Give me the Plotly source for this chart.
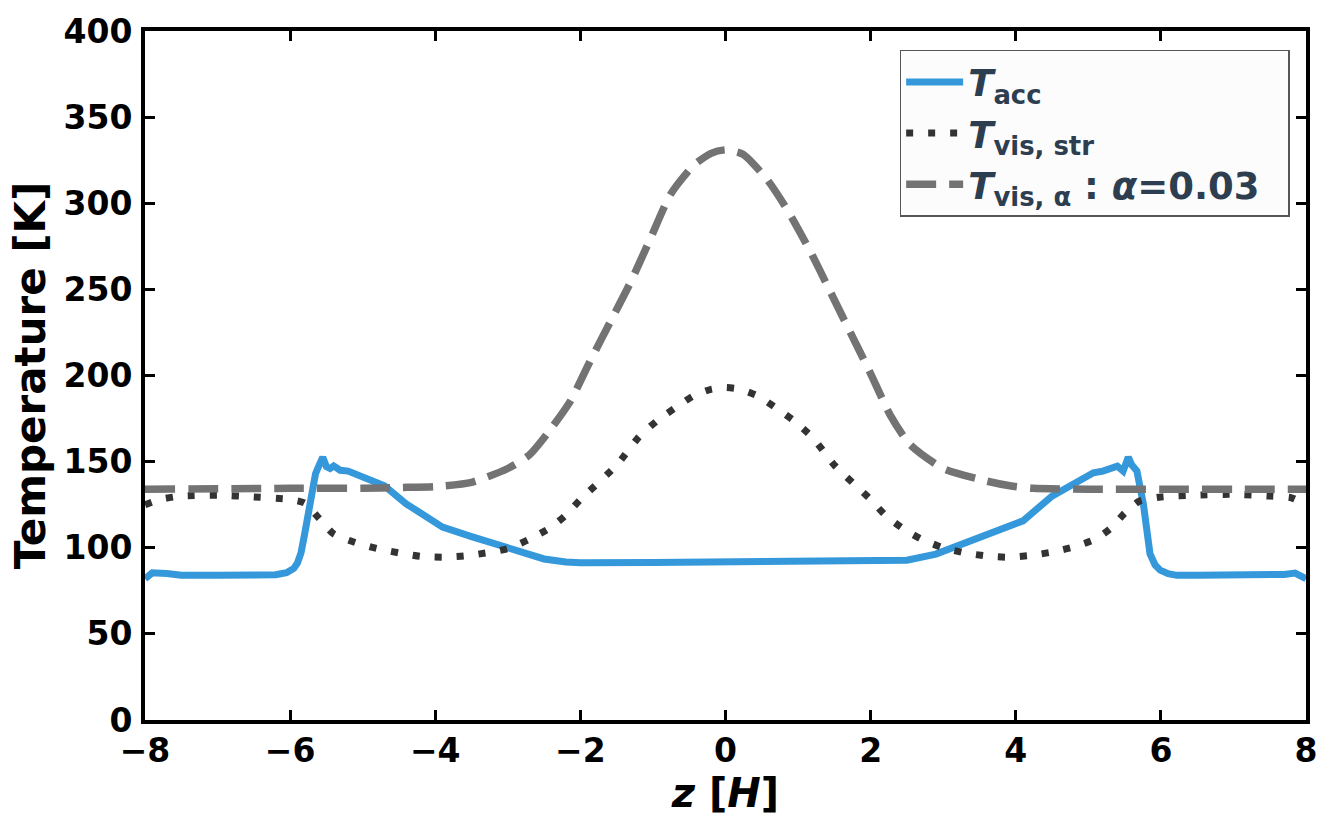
import plotly.graph_objects as go

# T_acc (solid blue)
z_acc = [-8.0, -7.9, -7.7, -7.5, -7.0, -6.5, -6.2, -6.05, -5.95, -5.9, -5.85, -5.8, -5.75, -5.7, -5.65,
         -5.6, -5.55, -5.5, -5.45, -5.4, -5.35, -5.31, -5.2, -5.08, -4.86, -4.7, -4.4, -4.1, -3.9,
         -3.5, -3.0, -2.5, -2.2, -2.0, -1.0, 0.0, 1.0, 2.0, 2.5, 2.9, 3.6, 4.1, 4.5, 4.84, 5.07,
         5.2, 5.25, 5.3, 5.35, 5.4, 5.48, 5.55, 5.6, 5.67, 5.76, 5.85, 5.92, 5.99, 6.1, 6.22, 6.5,
         7.0, 7.5, 7.7, 7.85, 8.0]
T_acc = [82.0, 85.5, 85.0, 84.0, 84.0, 84.0, 84.3, 85.5, 88.0, 91.0, 97.0, 108.0, 120.0, 133.0, 143.0,
         148.0, 152.5, 147.0, 146.0, 147.5, 146.5, 145.0, 144.5, 142.6, 138.7, 136.0, 125.5, 117.0, 112.0,
         106.5, 100.0, 93.5, 91.7, 91.3, 91.5, 91.7, 92.0, 92.3, 92.8, 96.3, 107.6, 115.6, 130.0, 138.7, 143.5,
         144.5, 145.5, 146.0, 147.0, 147.4, 144.5, 152.5, 148.0, 144.5, 125.0, 96.5, 90.0, 87.0, 85.0, 84.0, 84.0,
         84.0, 84.0, 84.5, 85.3, 82.0]

# T_vis,str (dotted)
z_str = [-8.0, -7.8, -7.5, -7.0, -6.5, -6.0, -5.8, -5.6, -5.4, -5.1, -4.8, -4.5, -4.2, -3.9, -3.6,
         -3.3, -3.0, -2.7, -2.4, -2.2, -2.0, -1.5, -1.2, -0.95, -0.7, -0.45, -0.2, 0.0, 0.2, 0.45,
         0.7, 0.95, 1.2, 1.5, 2.0, 2.2, 2.45, 2.7, 3.0, 3.3, 3.6, 3.9, 4.2, 4.5, 4.8, 5.1, 5.3, 5.5,
         5.7, 6.0, 6.5, 7.0, 7.5, 7.8, 8.0]
T_str = [125.0, 128.0, 130.0, 130.5, 129.5, 128.0, 126.0, 117.0, 108.0, 103.0, 99.5, 97.0, 95.0, 94.5, 95.2,
         97.0, 99.5, 105.0, 112.0, 119.0, 128.0, 148.0, 164.0, 173.5, 181.0, 188.0, 192.0, 193.0, 192.0, 188.0,
         181.0, 173.5, 164.0, 148.0, 128.0, 119.0, 111.0, 105.0, 100.0, 97.0, 95.2, 94.5, 95.5, 97.5, 100.5,
         105.0, 111.0, 120.0, 127.0, 129.5, 130.5, 131.0, 130.0, 129.0, 125.0]

# T_vis,alpha (dashed)
z_alp = [-8.0, -6.0, -5.0, -4.5, -4.0, -3.5, -3.0, -2.7, -2.46, -2.14, -1.87, -1.59, -1.31, -1.04,
         -0.76, -0.44, -0.2, 0.0, 0.24, 0.57, 0.84, 1.17, 1.44, 1.72, 1.99, 2.27, 2.54, 3.0, 3.6,
         3.92, 4.24, 5.0, 6.0, 7.0, 8.0]
T_alp = [134.0, 134.5, 134.5, 135.0, 135.5, 138.0, 146.0, 154.0, 166.0, 185.0, 208.0, 231.0, 254.0, 279.0,
         305.0, 322.0, 329.0, 331.0, 328.5, 314.0, 297.0, 272.0, 249.0, 225.0, 202.0, 177.0, 160.0, 146.0, 138.7,
         136.0, 134.5, 134.0, 134.0, 134.0, 134.0]

x_ticks = [-8, -6, -4, -2, 0, 2, 4, 6, 8]
y_ticks = [0, 50, 100, 150, 200, 250, 300, 350, 400]

FONT = "DejaVu Sans"
fig = go.Figure()
fig.add_trace(go.Scatter(x=z_acc, y=T_acc, mode="lines",
                         line=dict(color="#3498db", width=7),
                         name="<b><i>T</i><sub>acc</sub></b>"))
fig.add_trace(go.Scatter(x=z_str, y=T_str, mode="lines",
                         line=dict(color="#333333", width=7, dash="7px,15px", shape="spline", smoothing=0.6),
                         name="<b><i>T</i><sub>vis, str</sub></b>"))
fig.add_trace(go.Scatter(x=z_alp, y=T_alp, mode="lines",
                         line=dict(color="#737373", width=7.5, dash="30px,13px", shape="spline", smoothing=0.6),
                         name="<b><i>T</i><sub>vis, α</sub> : <i>α</i>=0.03</b>&nbsp;&nbsp;"))

axis_common = dict(showline=True, linewidth=4, linecolor="black", mirror="allticks",
                   ticks="inside", ticklen=10, tickwidth=3, tickcolor="black",
                   showgrid=False, zeroline=False,
                   tickfont=dict(family=FONT, size=33, color="black", weight="bold"))

fig.update_xaxes(range=[-8, 8], tickvals=x_ticks, ticktext=[("−" if v < 0 else "") + str(abs(v)) for v in x_ticks],
                 ticklabelstandoff=-2,
                 title=dict(text="<b><i>z</i> [<i>H</i>]</b>", font=dict(family=FONT, size=40, color="black"), standoff=0),
                 **axis_common)
fig.update_yaxes(range=[0, 400], tickvals=y_ticks, ticklabelstandoff=2,
                 title=dict(text="<b>Temperature [K]</b>", font=dict(family=FONT, size=42, color="black"), standoff=6),
                 **axis_common)

fig.update_layout(
    width=1335, height=827,
    margin=dict(l=145, r=29, t=28, b=107),
    plot_bgcolor="white", paper_bgcolor="white",
    font=dict(family=FONT, color="black"),
    legend=dict(x=0.65, y=0.9725, xanchor="left", yanchor="top",
                bgcolor="#fcfcfc", bordercolor="#555555", borderwidth=1.5,
                font=dict(family=FONT, size=37, color="#2c3e50"),
                itemwidth=57, tracegroupgap=0),
)

fig.write_html("out.html")
